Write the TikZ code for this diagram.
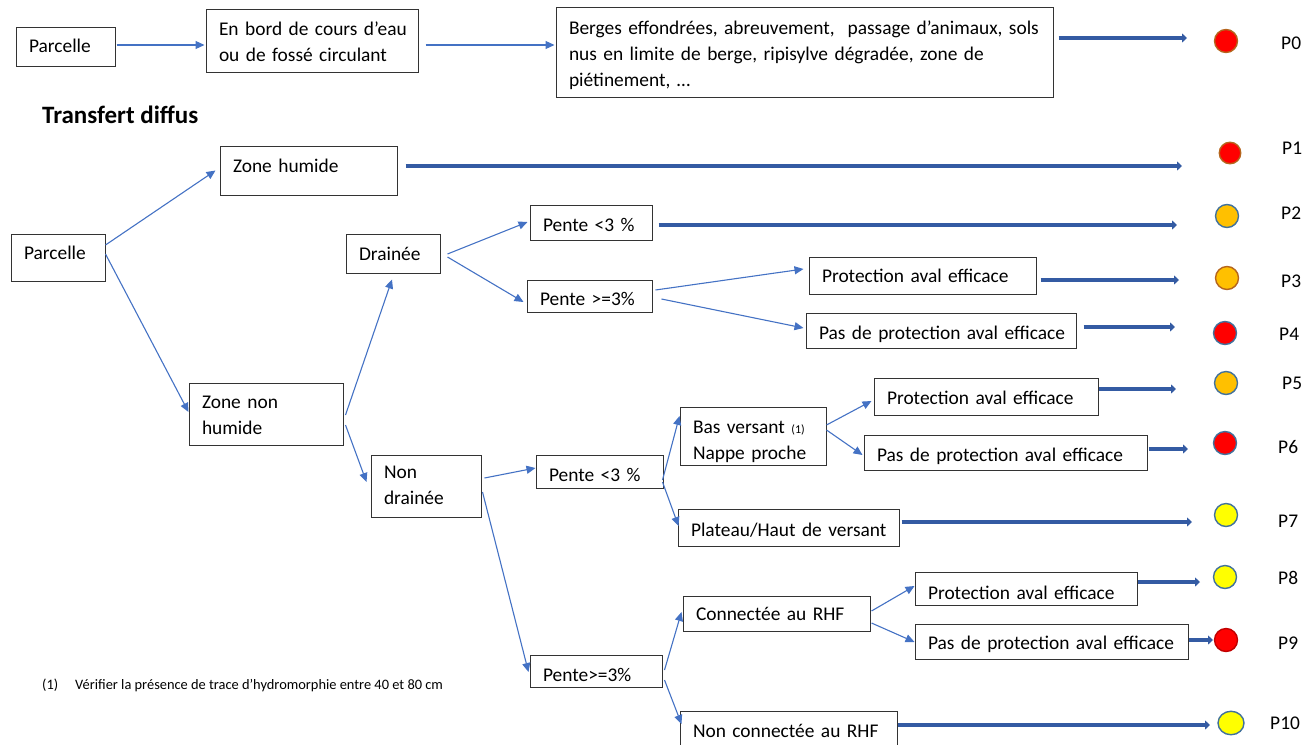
\documentclass[tikz,border=0pt]{standalone}
\usepackage{fontspec}
\setmainfont{Carlito}
\usetikzlibrary{arrows.meta,calc,shapes.geometric}
\definecolor{thinblue}{HTML}{4472C4}
\definecolor{thickblue}{HTML}{345BA3}
\definecolor{dotred}{HTML}{FF0000}
\definecolor{dotorange}{HTML}{FFC000}
\definecolor{dotyellow}{HTML}{FFFF00}
\definecolor{rimbrown}{HTML}{B5651D}
\definecolor{rimblue}{HTML}{41719C}
\definecolor{rimred}{HTML}{C00000}
\newcommand\bodyfont{\fontsize{19.4}{26}\selectfont}
\newcommand\oneb[7][0]{%
  \pgfmathsetmacro\bw{#5-#3}\pgfmathsetmacro\bh{#6-#4}\pgfmathsetmacro\tw{#5-#3-26}%
  \node[bx,minimum width=\bw pt,minimum height=\bh pt,text width=\tw pt] (#2)
    at ({(#3+#5)/2},{(#4+#6)/2}) {\strut\raisebox{#1pt}[0pt][0pt]{#7}};}
\newcommand\lo[1]{\raisebox{-\ldrop pt}[0pt][0pt]{#1}}
\newcommand\multib[7][0]{%
  \pgfmathsetmacro\bw{#5-#3}\pgfmathsetmacro\bh{#6-#4}\pgfmathsetmacro\tw{#5-#3-26}%
  \def\ldrop{#1}%
  \node[bx,minimum width=\bw pt,minimum height=\bh pt,text width=\tw pt] (#2)
    at ({(#3+#5)/2},{(#4+#6)/2}) {\strut #7\strut};}
\begin{document}
\begin{tikzpicture}[x=1pt,y=-1pt,
  bx/.style={draw=black!80, line width=1pt, align=left, inner xsep=13pt, inner ysep=1pt, font=\bodyfont},
  arr/.style={draw=thinblue, line width=1.1pt, -{Triangle[length=9pt,width=8pt]}},
  thk/.style={draw=thickblue, line width=3.5pt, -{Triangle[length=5pt,width=9pt]}},
  dot/.style={circle, minimum size=23pt, inner sep=0pt, line width=1.4pt},
  plab/.style={anchor=base west, font=\bodyfont, inner sep=0pt}]
\useasboundingbox (0,0) rectangle (1305,744);

% ---- top row
\oneb[-1]{p1}{16}{27}{115}{66}{Parcelle}
\multib[2.5]{bord}{206}{9}{418}{72}{\lo{En bord de cours d’eau}\\\lo{ou de fossé circulant}}
\multib[3]{berges}{556}{7}{1053}{97}{\lo{Berges effondrées, abreuvement,\ \ passage d’animaux, sols}\\\lo{nus en limite de berge, ripisylve dégradée, zone de}\\\lo{piétinement, …}}

\node[anchor=base west, font=\bfseries\fontsize{25}{28}\selectfont, inner sep=0pt] (title) at (42,123) {Transfert diffus};

% ---- tree
\oneb[3]{p2}{11}{234}{105}{281}{Parcelle}
\oneb[3]{zh}{220}{146}{397}{195}{Zone humide}
\multib[2.5]{znh}{189}{383}{343}{445}{\lo{Zone non}\\\lo{humide}}
\oneb[-2]{dr}{346}{234}{440}{273}{Drainée}
\multib[0]{nd}{371}{455}{481}{517}{\lo{Non}\\\lo{drainée}}
\oneb[-4]{pa1}{530}{205}{652}{240}{Pente <3 \%}
\oneb[-4]{pb1}{527}{280}{652}{312}{Pente >=3\%}
\oneb[-2]{prA}{809}{257}{1036}{294}{Protection aval efficace}
\oneb[-4]{ppA}{806}{313}{1076}{348}{Pas de protection aval efficace}
\oneb[-5]{pa2}{536}{455}{663}{488}{Pente <3 \%}
\oneb[-5]{pb2}{530}{655}{662}{687}{Pente>=3\%}
\multib[5]{bv}{680}{407}{826}{465}{\lo{Bas versant {\fontsize{12}{14}\selectfont(1)}}\\\lo{Nappe proche}}
\oneb[-4]{ph}{678}{509}{899}{546}{Plateau/Haut de versant}
\oneb[-3]{prB}{874}{378}{1098}{415}{Protection aval efficace}
\oneb[-4]{ppB}{864}{435}{1147}{470}{Pas de protection aval efficace}
\oneb[-2]{co}{683}{596}{870}{631}{Connectée au RHF}
\oneb[-3]{nc}{680}{711}{897}{748}{Non connectée au RHF}
\oneb[-6]{prC}{915}{572}{1137}{605}{Protection aval efficace}
\oneb[-3]{ppC}{915}{624}{1188}{659}{Pas de protection aval efficace}

\node[anchor=base west, font=\fontsize{14.4}{16}\selectfont, inner sep=0pt] (note) at (42,689)
  {(1)\hspace{17pt}Vérifier la présence de trace d’hydromorphie entre 40 et 80 cm};

% ---- result dots
\node[dot, fill=dotred, draw=rimbrown] (c0) at (1226,41) {};
\node[dot, fill=dotred, draw=rimbrown, minimum size=21.5pt] (c1) at (1230,153) {};
\node[dot, fill=dotorange, draw=rimblue] (c2) at (1227,216) {};
\node[dot, fill=dotorange, draw=rimbrown] (c3) at (1227,278) {};
\node[dot, fill=dotred, draw=rimblue] (c4) at (1225,333) {};
\node[dot, fill=dotorange, draw=rimblue] (c5) at (1226,383) {};
\node[dot, fill=dotred, draw=rimblue] (c6) at (1225,443) {};
\node[dot, fill=dotyellow, draw=rimblue] (c7) at (1226,515) {};
\node[dot, fill=dotyellow, draw=rimblue] (c8) at (1225,577) {};
\node[dot, fill=dotred, draw=rimred] (c9) at (1226,640) {};
\node[ellipse, minimum width=26pt, minimum height=23.5pt, inner sep=0pt, line width=1.4pt, fill=dotyellow, draw=rimblue] (c10) at (1231,723) {};

\node[plab] (l0) at (1281,49) {P0};
\node[plab] (l1) at (1282,154) {P1};
\node[plab] (l2) at (1281,219) {P2};
\node[plab] (l3) at (1281,287) {P3};
\node[plab] (l4) at (1279,340) {P4};
\node[plab] (l5) at (1282,389) {P5};
\node[plab] (l6) at (1278,453) {P6};
\node[plab] (l7) at (1278,527) {P7};
\node[plab] (l8) at (1278,584) {P8};
\node[plab] (l9) at (1278,649) {P9};
\node[plab] (l10) at (1270,729) {P10};

% ---- thin arrows
\draw[arr] ($(p1.east)+(1,-1.5)$) -- ($(bord.west)+(-1,4.5)$);
\draw[arr] ($(bord.east)+(7,4.5)$) -- ($(berges.west)+(-1,-7)$);
\draw[arr] ($(p2.east)+(0,-12.5)$) -- ($(zh.west)+(-4,0)$);
\draw[arr] ($(p2.east)+(0,-3.5)$) -- ($(znh.west)+(0,-2)$);
\draw[arr] ($(znh.east)+(2,1)$) -- ($(dr.south)+(-1,6)$);
\draw[arr] ($(znh.east)+(2,11)$) -- ($(nd.west)+(-4,-4)$);
\draw[arr] ($(dr.east)+(7,0.5)$) -- ($(pa1.west)+(-2,-0.5)$);
\draw[arr] ($(dr.east)+(7,3.5)$) -- ($(pb1.west)+(-3,6)$);
\draw[arr] ($(pb1.east)+(3,-6)$) -- ($(prA.west)+(-5,-6.5)$);
\draw[arr] ($(pb1.east)+(9,3)$) -- ($(ppA.west)+(-2,-2.5)$);
\draw[arr] ($(nd.east)+(3,-8)$) -- ($(pa2.west)+(0,-3.5)$);
\draw[arr] ($(nd.east)+(1,6)$) -- ($(pb2.west)+(-1,1)$);
\draw[arr] ($(pa2.east)+(-1,8.5)$) -- ($(bv.west)+(0,-20)$);
\draw[arr] ($(pa2.east)+(-1,10.5)$) -- ($(ph.west)+(1,-1.5)$);
\draw[arr] ($(bv.east)+(0,-11)$) -- ($(prB.west)+(-2,4.5)$);
\draw[arr] ($(bv.east)+(0,-6)$) -- ($(ppB.west)+(-1,2.5)$);
\draw[arr] ($(pb2.east)+(2,-1)$) -- ($(co.west)+(-1,-1.5)$);
\draw[arr] ($(pb2.east)+(2,9)$) -- ($(nc.west)+(2,-5.5)$);
\draw[arr] ($(co.east)+(1,-2.5)$) -- ($(prC.west)+(0,-2.5)$);
\draw[arr] ($(co.east)+(1,9.5)$) -- ($(ppC.west)+(0,0.5)$);

% ---- thick arrows
\coordinate (e0) at (1187,38);
\coordinate (e1) at (1182,166);
\coordinate (e2) at (1177,225);
\coordinate (e3) at (1179,280);
\coordinate (e4) at (1175,327);
\coordinate (e5) at (1176,389);
\coordinate (e6) at (1188,449);
\coordinate (e7) at (1192,522);
\coordinate (e8) at (1200,582);
\coordinate (e9) at (1213,640);
\coordinate (e10) at (1210,725);
\draw[thk, shorten <=5pt] (berges.east |- e0) -- (e0);
\draw[thk, shorten <=8pt] (zh.east |- e1) -- (e1);
\draw[thk, shorten <=6pt] (pa1.east |- e2) -- (e2);
\draw[thk, shorten <=4pt] (prA.east |- e3) -- (e3);
\draw[thk, shorten <=7pt] (ppA.east |- e4) -- (e4);
\draw[thk] (prB.east |- e5) -- (e5);
\draw[thk, shorten <=1pt] (ppB.east |- e6) -- (e6);
\draw[thk, shorten <=2pt] (ph.east |- e7) -- (e7);
\draw[thk] (prC.east |- e8) -- (e8);
\draw[thk] (ppC.east |- e9) -- (e9);
\draw[thk] (nc.east |- e10) -- (e10);
\end{tikzpicture}
\end{document}
